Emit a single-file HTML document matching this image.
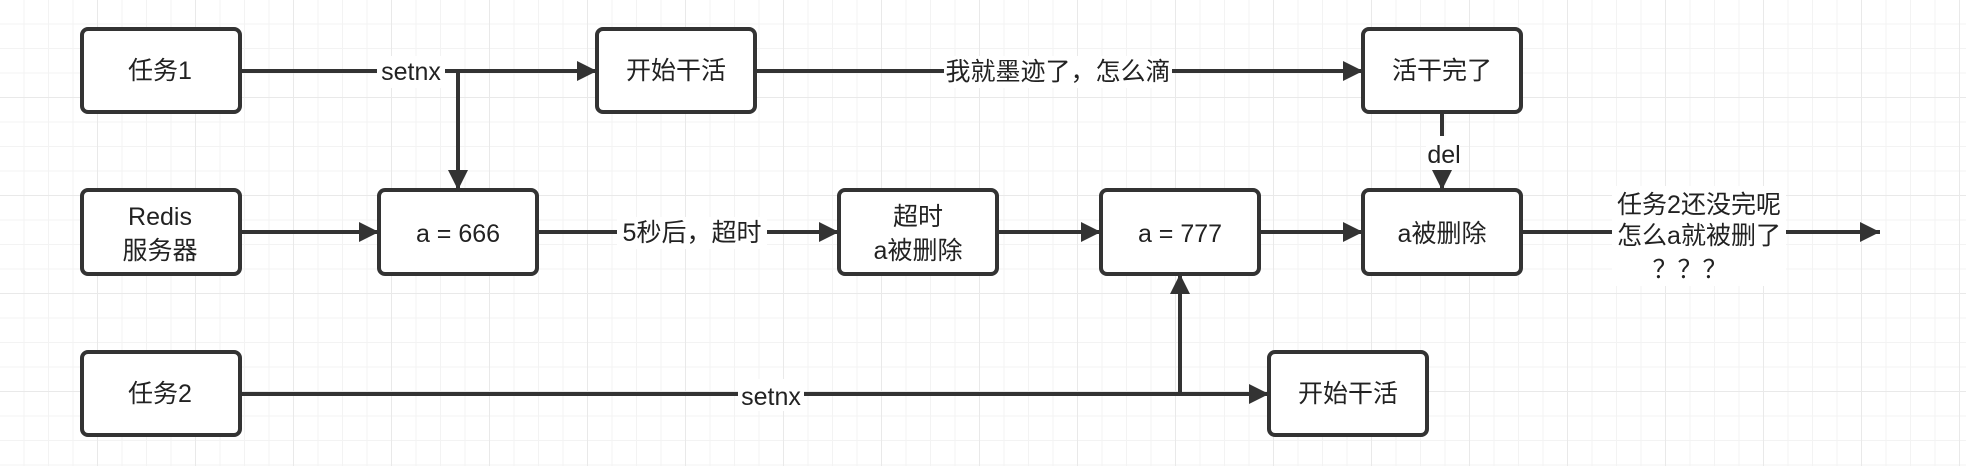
<!DOCTYPE html>
<html><head><meta charset="utf-8"><style>
html,body{margin:0;padding:0;background:#fff;}
body{width:1966px;height:466px;overflow:hidden;position:relative;
background-image:linear-gradient(#e9e9e9 1px,transparent 1px),linear-gradient(90deg,#e9e9e9 1px,transparent 1px),linear-gradient(#f3f3f3 1px,transparent 1px),linear-gradient(90deg,#f3f3f3 1px,transparent 1px);
background-size:98px 98px,98px 98px,24.5px 24.5px,24.5px 24.5px;background-position:-1px -1px;}
svg{position:absolute;left:0;top:0}
text{font-family:"Liberation Sans","Noto Sans CJK SC",sans-serif;font-size:25px;fill:#222;text-anchor:middle;dominant-baseline:central}
</style></head><body>
<svg width="1966" height="466" viewBox="0 0 1966 466">
<defs>
<marker id="b" viewBox="0 0 10 10" markerWidth="26" markerHeight="20" refX="10" refY="5" orient="auto" markerUnits="userSpaceOnUse"><path d="M0,0 L10,5 L0,10z" fill="#333"/></marker></defs>
<g stroke="#333" stroke-width="4" fill="none">
<line x1="240" y1="71" x2="597" y2="71" marker-end="url(#b)"/>
<line x1="458" y1="71" x2="458" y2="190" marker-end="url(#b)"/>
<line x1="755" y1="71" x2="1363" y2="71" marker-end="url(#b)"/>
<line x1="240" y1="232" x2="379" y2="232" marker-end="url(#b)"/>
<line x1="537" y1="232" x2="839" y2="232" marker-end="url(#b)"/>
<line x1="997" y1="232" x2="1101" y2="232" marker-end="url(#b)"/>
<line x1="1259" y1="232" x2="1363" y2="232" marker-end="url(#b)"/>
<line x1="1521" y1="232" x2="1880" y2="232" marker-end="url(#b)"/>
<line x1="1442" y1="112" x2="1442" y2="190" marker-end="url(#b)"/>
<line x1="240" y1="394" x2="1269" y2="394" marker-end="url(#b)"/>
<line x1="1180" y1="394" x2="1180" y2="274" marker-end="url(#b)"/>
</g>
<g fill="#fff" stroke="#333" stroke-width="4">
<rect x="82" y="29" width="158" height="83" rx="6"/>
<rect x="597" y="29" width="158" height="83" rx="6"/>
<rect x="1363" y="29" width="158" height="83" rx="6"/>
<rect x="82" y="190" width="158" height="84" rx="6"/>
<rect x="379" y="190" width="158" height="84" rx="6"/>
<rect x="839" y="190" width="158" height="84" rx="6"/>
<rect x="1101" y="190" width="158" height="84" rx="6"/>
<rect x="1363" y="190" width="158" height="84" rx="6"/>
<rect x="82" y="352" width="158" height="83" rx="6"/>
<rect x="1269" y="352" width="158" height="83" rx="6"/>
</g>
<g fill="#fff">
<rect x="377" y="56" width="68" height="32"/>
<rect x="944" y="56" width="228" height="32"/>
<rect x="617" y="217" width="150" height="32"/>
<rect x="1426" y="136" width="34" height="34"/>
<rect x="1612" y="186" width="174" height="100"/>
<rect x="738" y="379" width="66" height="32"/>
</g>
<text x="160" y="71">任务1</text>
<text x="676" y="71">开始干活</text>
<text x="1442" y="71">活干完了</text>
<text x="160" y="217">Redis</text>
<text x="160" y="251">服务器</text>
<text x="458" y="234">a = 666</text>
<text x="918" y="217">超时</text>
<text x="918" y="251">a被删除</text>
<text x="1180" y="234">a = 777</text>
<text x="1442" y="234">a被删除</text>
<text x="160" y="394">任务2</text>
<text x="1348" y="394">开始干活</text>
<text x="411" y="72">setnx</text>
<text x="1058" y="72">我就墨迹了，怎么滴</text>
<text x="692" y="233">5秒后，超时</text>
<text x="1444" y="155">del</text>
<text x="1699" y="205">任务2还没完呢</text>
<text x="1699" y="236">怎么a就被删了</text>
<text x="1690" y="270">？？？</text>
<text x="771" y="397">setnx</text>
</svg>
</body></html>
